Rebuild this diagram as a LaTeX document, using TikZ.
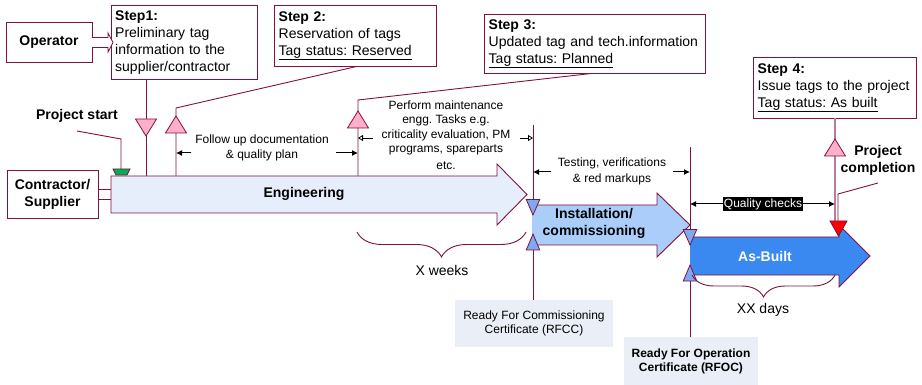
\documentclass[tikz,border=0pt]{standalone}
\usepackage{fontspec}
\setmainfont{Liberation Sans}
\usetikzlibrary{arrows.meta,decorations.pathreplacing}
\frenchspacing
\definecolor{wine}{RGB}{128,16,64}
\definecolor{mauve}{RGB}{185,125,155}
\definecolor{tagpink}{RGB}{255,175,200}
\definecolor{tagblue}{RGB}{125,170,240}
\definecolor{tagred}{RGB}{255,0,0}
\definecolor{taggreen}{RGB}{0,176,80}
\definecolor{engfill}{RGB}{230,238,252}
\definecolor{instfill}{RGB}{170,205,250}
\definecolor{abfill}{RGB}{58,137,240}
\definecolor{certfill}{RGB}{234,238,246}

\begin{document}
\begin{tikzpicture}[x=1pt,y=-1pt,
    stepbox/.style={draw=wine,fill=white,anchor=north west,align=left,inner xsep=4.5pt,inner ysep=0pt,
      font=\fontsize{14}{17}\selectfont},
    actor/.style={draw=wine,fill=white,align=center,font=\bfseries\fontsize{14}{17}\selectfont},
    bold/.style={align=center,font=\bfseries\fontsize{14}{17}\selectfont},
    note/.style={align=center,font=\fontsize{12}{15.5}\selectfont},
    cert/.style={fill=certfill,minimum height=47pt,align=center,font=\fontsize{12}{14}\selectfont},
    wline/.style={draw=wine,line width=0.9pt},
    tri/.style={draw=wine,line width=0.8pt,line join=miter},
    dim/.style={-{Latex[length=6pt,width=6pt]},line width=1pt},
    opendim/.style={-{Triangle[open,length=5pt,width=6pt]},line width=0.8pt},
    spanbrace/.style={wine,line width=0.9pt,decorate,decoration={brace,mirror,amplitude=#1}}]
  \useasboundingbox (0,0) rectangle (922,385);

  \node[actor,minimum width=86pt,minimum height=40pt] (op) at (49,42) {Operator};
  \node[actor,minimum width=91pt,minimum height=48pt] (cs) at (52.5,194) {Contractor/\\Supplier};
  \node[stepbox,text width=137.5pt,minimum height=74pt] (s1) at (110.5,5)
    {\textbf{Step1:}\\Preliminary tag\\information to the\\supplier/contractor};
  \node[stepbox,text width=153pt,minimum height=61pt] (s2) at (274,5)
    {\textbf{Step 2:}\\Reservation of tags\\\underline{Tag status: Reserved}};
  \node[stepbox,text width=212pt,minimum height=59pt] (s3) at (484,14)
    {\textbf{Step 3:}\\Updated tag and tech.information\\\underline{Tag status: Planned}};
  \node[stepbox,text width=154pt,minimum height=61pt] (s4) at (753,57)
    {\textbf{Step 4:}\\Issue tags to the project\\\underline{Tag status: As built}};
  \node[cert,minimum width=158pt] (rfcc) at (534,323.5) {Ready For Commissioning\\Certificate (RFCC)};
  \node[cert,minimum width=134pt,minimum height=48pt,font=\bfseries\fontsize{12}{14}\selectfont] (rfoc) at (691,361)
    {Ready For Operation\\Certificate (RFOC)};
  \node[bold] (start) at (77,116) {Project start};
  \node[bold] (compl) at (878,160) {Project\\completion};

  % tag lines
  \draw[wline] (s1.south -| 146,0) -- (146,176);
  \draw[wline] (s2.south -| 357,0) -- (176,108) -- (176,176);
  \draw[wline] (s3.south -| 592,0) -- (358,100) -- (358,176);
  \draw[wline] (533,125) -- (rfcc.north -| 533,0);
  \draw[wline] (690,147) -- (rfoc.north -| 690,0);
  \draw[mauve,line width=1.6pt] (s4.south -| 835,0) -- (835,221);
  \draw[wline] (77,131) -- (121,139) -- (121,169);
  \draw[wline] (878,183) -- (838,194) -- (838,221);
  \draw[wline] (cs.east |- 0,189) -- (111,189);
  \draw[wline] (cs.east |- 0,199) -- (111,199);
  \filldraw[draw=wine,fill=white,line width=0.8pt] (op.east |- 0,37.5) -- (108,37.5) -- (108,33) -- (113,42.5)
    -- (108,52) -- (108,47.5) -- (op.east |- 0,47.5);

  % phase arrows
  \filldraw[draw=wine,fill=engfill,line width=0.9pt] (111,176) -- (497,176) -- (497,164) -- (527,194.5)
    -- (497,225) -- (497,213) -- (111,213) -- cycle;
  \filldraw[draw=wine,fill=instfill,line width=0.9pt] (532,205) -- (657,205) -- (657,193) -- (690,225)
    -- (657,257) -- (657,245) -- (532,245);
  \filldraw[draw=wine,fill=abfill,line width=0.9pt] (690,237) -- (839,237) -- (839,225) -- (870,256)
    -- (839,287) -- (839,275) -- (690,275);

  \filldraw[tri,fill=tagpink] (146,136) -- ++(10.5,-17) -- ++(-21,0) -- cycle;
  \foreach \x/\y in {176/116,358/111,835/139}
    \filldraw[tri,fill=tagpink] (\x,\y) -- ++(10.5,17) -- ++(-21,0) -- cycle;
  \foreach \x/\y in {533/215,690/245}
    \filldraw[tri,fill=tagblue] (\x,\y) -- ++(6.75,-15.5) -- ++(-13.5,0) -- cycle;
  \foreach \x/\y in {533/234,690/265}
    \filldraw[tri,fill=tagblue] (\x,\y) -- ++(6.75,16) -- ++(-13.5,0) -- cycle;
  \filldraw[tri,fill=tagred] (838.5,236) -- ++(8.5,-15) -- ++(-17,0) -- cycle;
  \filldraw[tri,fill=taggreen] (113,169) -- (130,169) -- (127,175) -- (116,175) -- cycle;

  \draw[dim] (191,153) -- (176,153);
  \draw[dim] (336,153) -- (358,153);
  \draw[opendim] (373,138) -- (358,138);
  \draw[opendim] (520,138) -- (533,138);
  \draw[dim] (551,172) -- (533,172);
  \draw[dim] (673,172) -- (690,172);
  \draw[dim,{Latex[length=6pt,width=6pt]}-{Latex[length=6pt,width=6pt]}] (690,204) -- (835,204);
  \draw[spanbrace=25pt] (357,232) -- (526,232);
  \draw[spanbrace=22pt] (692,275) -- (835,275);

  \node[note] (follow) at (262,148) {Follow up documentation\\\& quality plan};
  \node[note,font=\fontsize{12}{14.5}\selectfont] (maint) at (446,135)
    {Perform maintenance\\engg. Tasks e.g.\\criticality evaluation, PM\\programs, spareparts\\[2pt]etc.};
  \node[note,font=\fontsize{12}{16}\selectfont] (test) at (612,171) {Testing, verifications\\\& red markups};
  \node[fill=black,text=white,inner sep=1pt,font=\fontsize{12}{14}\selectfont] (qual) at (763,204) {Quality checks};
  \node[bold] (eng) at (304,194) {Engineering};
  \node[bold] (inst) at (594,223) {Installation/\\commissioning};
  \node[bold,text=white] (asb) at (765,256) {As-Built};
  \node[font=\fontsize{14}{17}\selectfont] (weeks) at (442,270) {X weeks};
  \node[font=\fontsize{14}{17}\selectfont] (days) at (763,310) {XX days};
\end{tikzpicture}
\end{document}
